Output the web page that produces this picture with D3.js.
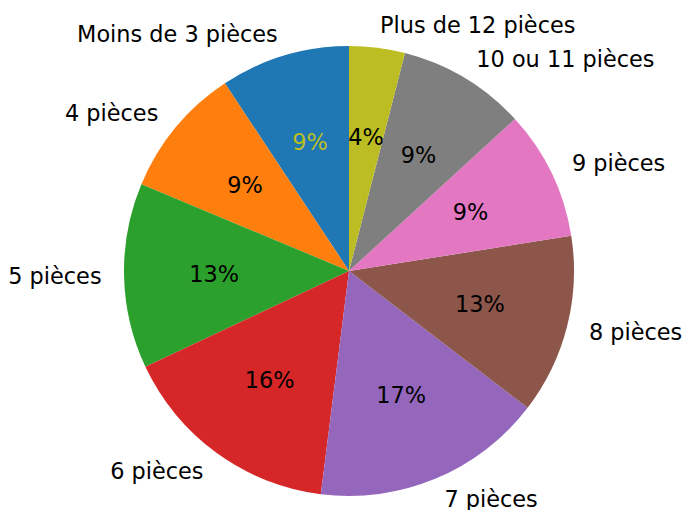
<!DOCTYPE html>
<html>
<head>
<meta charset="utf-8">
<script src="https://cdn.jsdelivr.net/npm/d3@7"></script>
<style>
  body { margin: 0; background: #fff; }
  text { font-family: "DejaVu Sans", sans-serif; font-size: 22.4px; }
</style>
</head>
<body>
<div id="chart"></div>
<script>
// share of dwellings by number of rooms
var categories = ["Moins de 3 pièces", "4 pièces", "5 pièces", "6 pièces", "7 pièces",
                  "8 pièces", "9 pièces", "10 ou 11 pièces", "Plus de 12 pièces"];
var shares = [9.3, 9.4, 13.3, 16.0, 16.6, 12.9, 9.3, 9.2, 4.0];
var colors = ["#1f77b4", "#ff7f0e", "#2ca02c", "#d62728", "#9467bd",
              "#8c564b", "#e377c2", "#7f7f7f", "#bcbd22"];
// the first percentage label comes out in olive in the original
var pctColors = ["#bcbd22", "#000", "#000", "#000", "#000", "#000", "#000", "#000", "#000"];

var svgWidth = 683;
var svgHeight = 510;
var cx = 349, cy = 271, radius = 225;

var svg = d3.select("#chart").append("svg")
    .attr("width", svgWidth)
    .attr("height", svgHeight);

var g = svg.append("g")
    .attr("transform", `translate(${cx}, ${cy})`);

// start at the top and go counterclockwise like matplotlib startangle=90
var pie = d3.pie()
    .sort(null)
    .startAngle(0)
    .endAngle(-2 * Math.PI);

var arcs = pie(shares);
var total = d3.sum(shares);

var arc = d3.arc().innerRadius(0).outerRadius(radius);

g.selectAll(".slice")
    .data(arcs)
    .enter()
    .append("path")
    .attr("class", "slice")
    .attr("d", arc)
    .attr("fill", (d, i) => colors[i]);

function mid(d) { return (d.startAngle + d.endAngle) / 2; }

// category labels at 1.1 r
g.selectAll(".lbl")
    .data(arcs)
    .enter()
    .append("text")
    .attr("class", "lbl")
    .attr("x", d => 1.1 * radius * Math.sin(mid(d)))
    .attr("y", d => -1.1 * radius * Math.cos(mid(d)))
    .attr("dy", "0.35em")
    .attr("text-anchor", d => Math.sin(mid(d)) < 0 ? "end" : "start")
    .text((d, i) => categories[i]);

// percentages at 0.6 r
g.selectAll(".pct")
    .data(arcs)
    .enter()
    .append("text")
    .attr("class", "pct")
    .attr("x", d => 0.6 * radius * Math.sin(mid(d)))
    .attr("y", d => -0.6 * radius * Math.cos(mid(d)))
    .attr("dy", "0.35em")
    .attr("text-anchor", "middle")
    .attr("fill", (d, i) => pctColors[i])
    .text(d => Math.round(d.value / total * 100) + "%");
</script>
</body>
</html>
